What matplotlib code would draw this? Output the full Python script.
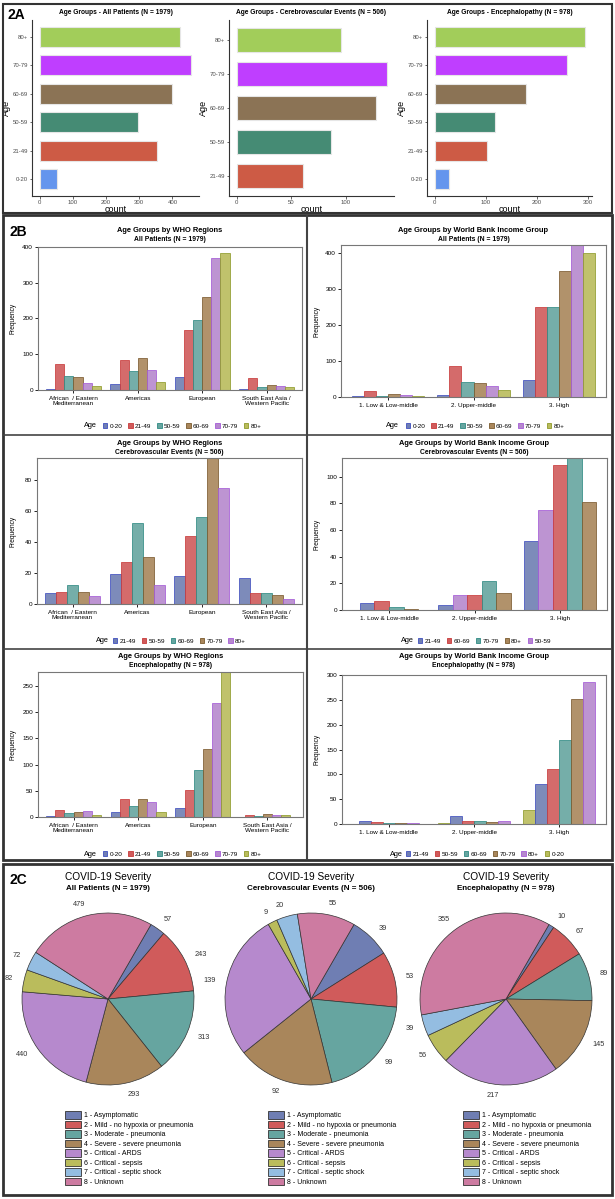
import matplotlib
matplotlib.use("Agg")
import matplotlib.pyplot as plt
import matplotlib.patches as mpatches
from matplotlib.lines import Line2D
import numpy as np

plt.rcParams['font.family'] = ['Liberation Sans', 'DejaVu Sans']

W, H = 615, 1199
nan = np.nan

# ---------------------------------------------------------------- data 2A
ages_all = ['0-20', '21-49', '50-59', '60-69', '70-79', '80+']
ages_cv = ['21-49', '50-59', '60-69', '70-79', '80+']
count_all = [52, 353, 296, 399, 457, 422]
count_cv = [61, 86, 127, 137, 95]
count_en = [29, 102, 118, 178, 258, 293]
gg_colors = {'0-20': '#6495ED', '21-49': '#CD5B45', '50-59': '#458B74',
             '60-69': '#8B7355', '70-79': '#BF3EFF', '80+': '#A2CD5A'}

# ---------------------------------------------------------------- data 2B
who_regions = ['African  / Eastern\nMediterranean', 'Americas', 'European',
               'South East Asia /\nWestern Pacific']
wb_groups = ['1. Low & Low-middle', '2. Upper-middle', '3. High']

# rows follow the age list, columns follow the groups
who_all = [[3, 17, 35, 4], [74, 83, 167, 33], [40, 53, 195, 9],
           [36, 90, 261, 13], [20, 56, 369, 10], [10, 22, 384, 7]]
wb_all = [[2, 5, 46], [16, 87, 251], [4, 43, 250],
          [9, 38, 351], [5, 30, 422], [4, 19, 400]]
who_cv = [[7, 19, 18, 17], [8, 27, 44, 7], [12, 52, 56, 7],
          [8, 30, 94, 6], [5, 12, 75, 3]]
wb_cv = [[5, 4, 52], [nan, 11, 75], [7, 11, 109], [2, 22, 114], [1, 13, 81]]
who_en = [[2, 10, 18, nan], [13, 34, 52, 4], [8, 21, 90, 2],
          [9, 35, 129, 5], [11, 28, 217, 4], [4, 10, 277, 4]]
wb_en = [[nan, 2, 28], [6, 17, 81], [4, 6, 111],
         [3, 7, 169], [3, 4, 252], [2, 6, 286]]

# legend order decides the colour of each age group
legend_who_all = ['0-20', '21-49', '50-59', '60-69', '70-79', '80+']
legend_wb_all = ['0-20', '21-49', '50-59', '60-69', '70-79', '80+']
legend_who_cv = ['21-49', '50-59', '60-69', '70-79', '80+']
legend_wb_cv = ['21-49', '60-69', '70-79', '80+', '50-59']
legend_who_en = ['0-20', '21-49', '50-59', '60-69', '70-79', '80+']
legend_wb_en = ['21-49', '50-59', '60-69', '70-79', '80+', '0-20']

sas_fill = ['#6F7EB3', '#D05B5B', '#66A5A0', '#A9865B', '#B689CD', '#BABC5C',
            '#94BDE1', '#CD7BA1']
sas_line = ['#3F4FC0', '#C83A3A', '#2E8A83', '#7A5A2E', '#A55BD8', '#8E9A2A']

# ---------------------------------------------------------------- data 2C
severity = ['1 - Asymptomatic', '2 - Mild - no hypoxia or pneumonia',
            '3 - Moderate - pneumonia', '4 - Severe - severe pneumonia',
            '5 - Critical - ARDS', '6 - Critical - sepsis',
            '7 - Critical - septic shock', '8 - Unknown']
sev_all = [57, 243, 313, 293, 440, 82, 72, 479]
sev_cv = [39, 53, 99, 92, 139, 9, 20, 55]
sev_en = [10, 67, 89, 145, 217, 56, 39, 355]


def fx(px):
    return px / W


def fy(py):
    return 1 - py / H


def px_axes(fig, x0, y0, x1, y1):
    return fig.add_axes([x0 / W, 1 - y1 / H, (x1 - x0) / W, (y1 - y0) / H])


def box(fig, x0, y0, x1, y1, lw=1.5, color='#333333'):
    rect = mpatches.Rectangle((fx(x0), fy(y1)), fx(x1 - x0), (y1 - y0) / H,
                              transform=fig.transFigure, fill=False,
                              lw=lw, ec=color)
    fig.add_artist(rect)


def hbar_panel(fig, rect, ages, counts, title, step):
    ax = px_axes(fig, *rect)
    pos = np.arange(len(ages))
    ax.barh(pos, counts, height=0.7,
            color=[gg_colors[a] for a in ages], edgecolor='#e6e6e6', lw=0.8)
    mx = max(counts)
    ax.set_xlim(-0.05 * mx, 1.05 * mx)
    ax.set_ylim(-0.6, len(ages) - 0.4)
    ax.set_yticks(pos)
    ax.set_yticklabels(ages)
    ax.set_xticks(np.arange(0, 1.05 * mx, step))
    for s in ['top', 'right']:
        ax.spines[s].set_visible(False)
    for s in ['left', 'bottom']:
        ax.spines[s].set_color('#333333')
        ax.spines[s].set_linewidth(0.8)
    ax.tick_params(labelsize=4.3, colors='#4d4d4d', length=1.8, width=0.6,
                   pad=1)
    ax.set_xlabel('count', fontsize=6.5, labelpad=0)
    ax.set_ylabel('Age', fontsize=6.5, labelpad=1)
    cx = (rect[0] + rect[2]) / 2
    fig.text(fx(cx), fy(12), title, ha='center', va='center',
             fontsize=4.8, fontweight='bold')
    return ax


def cluster_panel(fig, rect, groups, ages, values, legend_order, ymax,
                  yticks, subtitle, title, title_y, leg_y, age_x, leg_x,
                  ylab_x, xlab_pad):
    ax = px_axes(fig, *rect)
    vals = np.array(values, dtype=float)
    nmax = int(np.max(np.sum(~np.isnan(vals), axis=0)))
    w = 0.85 / nmax
    for g in range(len(groups)):
        present = [i for i in range(len(ages)) if not np.isnan(vals[i, g])]
        n = len(present)
        for k, i in enumerate(present):
            ci = legend_order.index(ages[i])
            ax.bar(g + (k - (n - 1) / 2) * w, vals[i, g], width=w,
                   color=sas_fill[ci], alpha=0.9, edgecolor=sas_line[ci],
                   lw=0.6)
    ax.set_xlim(-0.55, len(groups) - 0.45)
    ax.set_ylim(0, ymax)
    ax.set_xticks(range(len(groups)))
    ax.set_xticklabels(groups, fontsize=4.6, linespacing=1.0)
    ax.set_yticks(yticks)
    ax.tick_params(axis='y', labelsize=4.6, length=2, width=0.6, pad=1.5)
    ax.tick_params(axis='x', length=2, width=0.6, pad=xlab_pad)
    for s in ax.spines.values():
        s.set_color('#777777')
        s.set_linewidth(0.8)
    cx = (rect[0] + rect[2]) / 2
    fig.text(fx(cx), fy(title_y), title, ha='center', va='center',
             fontsize=5.4, fontweight='bold')
    fig.text(fx(cx), fy(title_y + 8.5), subtitle, ha='center', va='center',
             fontsize=4.9, fontweight='bold')
    fig.text(fx(ylab_x), (fy(rect[1]) + fy(rect[3])) / 2, 'Frequency',
             rotation=90, ha='center', va='center', fontsize=4.8)
    fig.text(fx(age_x), fy(leg_y), 'Age', ha='left', va='center',
             fontsize=5.3)
    handles = [mpatches.Patch(facecolor=sas_fill[i], edgecolor=sas_line[i],
                              lw=0.6) for i in range(len(legend_order))]
    fig.legend(handles, legend_order, loc='center left',
               bbox_to_anchor=(fx(leg_x), fy(leg_y)), ncol=len(legend_order),
               frameon=False, fontsize=4.6, handlelength=0.7,
               handleheight=0.7, handletextpad=0.35, columnspacing=0.9,
               borderpad=0, borderaxespad=0)
    return ax


def pie_panel(fig, cx, cy, r, values, subtitle, leg_x):
    ax = px_axes(fig, cx - r, cy - r, cx + r, cy + r)
    ax.pie(values, colors=sas_fill, startangle=60, counterclock=False,
           labels=[str(v) for v in values], labeldistance=1.13,
           radius=1.0,
           wedgeprops=dict(edgecolor='#333333', linewidth=0.5),
           textprops=dict(fontsize=5.3, color='#333333'))
    ax.set_xlim(-1, 1)
    ax.set_ylim(-1, 1)
    ax.set_aspect('auto')
    fig.text(fx(cx), fy(877), 'COVID-19 Severity', ha='center', va='center',
             fontsize=7.3)
    fig.text(fx(cx), fy(888), subtitle, ha='center', va='center',
             fontsize=5.8, fontweight='bold')
    handles = [mpatches.Patch(facecolor=c, edgecolor='#333333', lw=0.6)
               for c in sas_fill]
    fig.legend(handles, severity, loc='upper left',
               bbox_to_anchor=(fx(leg_x), fy(1111)), ncol=1, frameon=False,
               fontsize=5.0, handlelength=2.3, handleheight=1.3,
               handletextpad=0.4, labelspacing=0.2, borderpad=0,
               borderaxespad=0)


fig = plt.figure(figsize=(W / 100, H / 100), dpi=100)
fig.patch.set_facecolor('white')

# ---------------------------------------------------------------- 2A
box(fig, 3, 4, 612, 213)
fig.text(fx(7), fy(15), '2A', fontsize=10, fontweight='bold',
         ha='left', va='center')
hbar_panel(fig, (32, 20, 199, 196), ages_all, count_all,
           'Age Groups - All Patients (N = 1979)', 100)
hbar_panel(fig, (229, 20, 394, 196), ages_cv, count_cv,
           'Age Groups - Cerebrovascular Events (N = 506)', 50)
hbar_panel(fig, (427, 20, 592, 196), ages_all, count_en,
           'Age Groups - Encephalopathy (N = 978)', 100)

# ---------------------------------------------------------------- 2B
box(fig, 3, 215, 612, 860, lw=2)
for y in (435, 649):
    fig.add_artist(Line2D([fx(4), fx(611)], [fy(y), fy(y)],
                          transform=fig.transFigure, color='#444444', lw=1.2))
fig.add_artist(Line2D([fx(307), fx(307)], [fy(216), fy(859)],
                      transform=fig.transFigure, color='#444444', lw=1.5))
fig.text(fx(9), fy(232), '2B', fontsize=10, fontweight='bold',
         ha='left', va='center')

who_title = 'Age Groups by WHO Regions'
wb_title = 'Age Groups by World Bank Income Group'
sub_all = 'All Patients (N = 1979)'
sub_cv = 'Cerebrovascular Events (N = 506)'
sub_en = 'Encephalopathy (N = 978)'

cluster_panel(fig, (38, 247, 302, 390), who_regions, ages_all, who_all,
              legend_who_all, 400, [0, 100, 200, 300, 400], sub_all,
              who_title, 231, 426, 84, 103, 13, 2)
cluster_panel(fig, (341, 245, 606, 397), wb_groups, ages_all, wb_all,
              legend_wb_all, 422, [0, 100, 200, 300, 400], sub_all,
              wb_title, 231, 426, 386, 406, 317, 2)
cluster_panel(fig, (37, 458, 302, 604), who_regions, ages_cv, who_cv,
              legend_who_cv, 94, [0, 20, 40, 60, 80], sub_cv,
              who_title, 444, 641, 96, 113, 13, 2)
cluster_panel(fig, (342, 458, 607, 610), wb_groups, ages_cv, wb_cv,
              legend_wb_cv, 114, [0, 20, 40, 60, 80, 100], sub_cv,
              wb_title, 444, 641, 401, 418, 317, 2)
cluster_panel(fig, (38, 672, 303, 817), who_regions, ages_all, who_en,
              legend_who_en, 277, [0, 50, 100, 150, 200, 250], sub_en,
              who_title, 657, 854, 84, 103, 13, 2)
cluster_panel(fig, (342, 675, 606, 824), wb_groups, ages_all, wb_en,
              legend_wb_en, 300, [0, 50, 100, 150, 200, 250, 300], sub_en,
              wb_title, 657, 854, 390, 406, 317, 2)

# ---------------------------------------------------------------- 2C
box(fig, 3, 864, 612, 1195, lw=2)
fig.text(fx(9), fy(880), '2C', fontsize=10, fontweight='bold',
         ha='left', va='center')
pie_panel(fig, 108, 999, 86, sev_all, sub_all, 65)
pie_panel(fig, 311, 999, 86, sev_cv, sub_cv, 268)
pie_panel(fig, 506, 999, 86, sev_en, sub_en, 463)

fig.savefig('out.png', dpi=100)
